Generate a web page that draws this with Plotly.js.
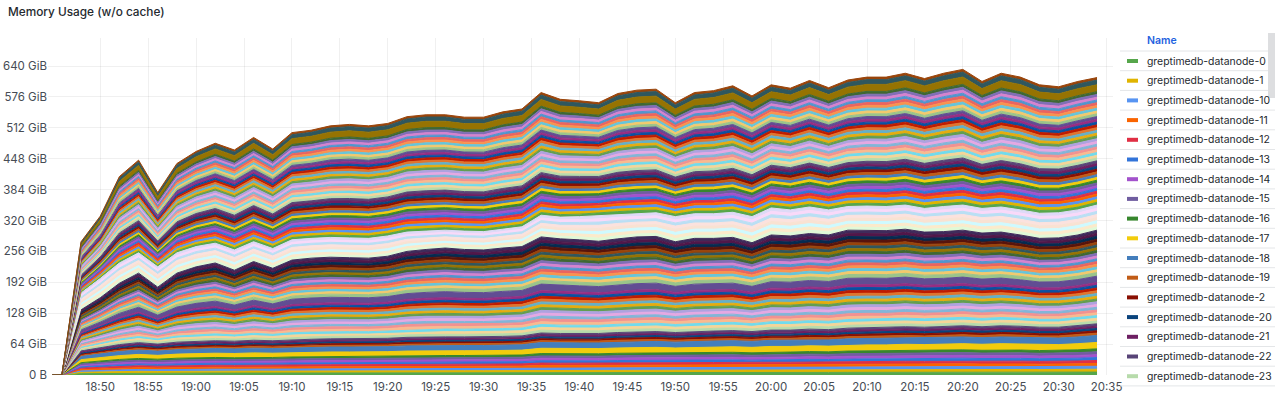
<!DOCTYPE html>
<html><head><meta charset="utf-8">
<script src="https://cdn.plot.ly/plotly-3.0.1.min.js"></script>
<style>html,body{margin:0;padding:0;background:#fff;} #chart{width:1280px;height:398px;}</style>
</head><body><div id="chart"></div>
<script>
// ---- data (GiB) ----
const day = '2024-01-01 ';
const times = ['18:45','18:46','18:48','18:50','18:52','18:54','18:56','18:58','19:00','19:02','19:04','19:06','19:08','19:10','19:12','19:14','19:16','19:18','19:20','19:22','19:24','19:26','19:28','19:30','19:32','19:34','19:36','19:38','19:40','19:42','19:44','19:46','19:48','19:50','19:52','19:54','19:56','19:58','20:00','20:02','20:04','20:06','20:08','20:10','20:12','20:14','20:16','20:18','20:20','20:22','20:24','20:26','20:28','20:30','20:32','20:34'];
// cumulative top of the stack (all 100 datanodes)
const stackTotal = [0,0,276,329,411,445,378,438,463,480,466,492,468,502,507,516,519,516,521,535,539,539,534,534,545,551,585,571,568,564,583,590,592,564,585,589,599,578,601,594,610,595,611,617,617,625,614,625,633,608,625,617,601,597,608,616];
// cumulative top of the pale band (series 48-55)
const topPale = [0,0,170,200,232,253,224,253,266,273,259,276,262,280,283,285,284,283,288,296,298,300,298,297,302,307,331,327,328,330,333,335,336,328,334,334,337,328,346,342,348,342,349,350,349,352,345,349,352,345,348,342,335,336,342,352];
// cumulative bottom of the pale band (top of series 47)
const bottomPale = [0,0,135,160,190,211,182,211,224,232,217,235,221,238,242,244,243,242,246,256,260,263,260,259,263,266,286,282,280,277,282,286,287,276,283,283,285,274,290,288,293,290,300,300,299,302,296,297,300,294,296,290,283,284,290,300];
// cumulative top of the lowest group (series 0-15)
const topLow = [0,0,50,57,63,67,64,68,70,71,70,72,71,73,74,75,75,75,76,78,79,79,79,79,80,81,87,86,86,86,88,89,90,88,90,91,92,90,93,93,95,94,97,98,98,100,99,100,102,100,102,101,99,99,102,106];
// relative band thickness of each series inside its group
const weightLow = [1,1,1,1,1,1,1,1,1,2.2,2.4,0.8,0.8,0.8,0.8,0.8];
const weightMid = [1,1,1,1,1,1,1,1,1,1,1,1,1,1,1,2.3,1.3,1,1,1,1,1,1,1,1,1,1,1,1.1,1.1,1.1,1.1];
const weightPale = [1,1,1,1,1,1,1,1];
const weightHigh = [1,1,1,1,1,1,1,1,1,1,1,1,1,1,1,1,1,1,1,1,1,1,1,1,1,1,1,1,1,1,1,1,1,1,1,1,1,1,1,1,1,2.5,1.7,0.9];
const nodeIds = Array.from({length:100},(_,i)=>String(i)).sort();
const palette = ['#56A64B','#E0B400','#5794F2','#FA6400','#E02F44','#3274D9','#A352CC','#705DA0','#37872D','#F2CC0C','#447EBC','#C15C17','#890F02','#0A437C','#6D1F62','#584477','#B7DBAB','#F4D598','#70DBED','#F9BA8F','#F29191','#82B5D8','#E5A8E2','#AEA2E0','#629E51','#E5AC0E','#64B0C8','#E0752D','#BF1B00','#0A50A1','#962D82','#614D93','#9AC48A','#F2C96D','#65C5DB','#F9934E','#EA6460','#5195CE','#D683CE','#806EB7','#3F6833','#967302','#2F575E','#99440A','#58140C','#052B51','#511749','#3F2B5B','#E0F9D7','#FCEACA','#CFFAFF','#F9E2D2','#FCE2DE','#BADFF4','#F9D9F9','#DEDAF7'];
const xTickLabels = ['18:50','18:55','19:00','19:05','19:10','19:15','19:20','19:25','19:30','19:35','19:40','19:45','19:50','19:55','20:00','20:05','20:10','20:15','20:20','20:25','20:30','20:35'];
const yTickVals = [0,64,128,192,256,320,384,448,512,576,640];
const yTickText = ['0 B','64 GiB','128 GiB','192 GiB','256 GiB','320 GiB','384 GiB','448 GiB','512 GiB','576 GiB','640 GiB'];

// ---- build series ----
const zero = times.map(()=>0);
const groups = [
  {lo: zero, hi: topLow, w: weightLow},
  {lo: topLow, hi: bottomPale, w: weightMid},
  {lo: bottomPale, hi: topPale, w: weightPale},
  {lo: topPale, hi: stackTotal, w: weightHigh}
];
const x = times.map(t => day + t);
const traces = [];
let idx = 0;
groups.forEach(g => {
  const sw = g.w.reduce((a,b)=>a+b,0);
  g.w.forEach(w => {
    const col = palette[idx % palette.length];
    traces.push({
      type:'scatter', mode:'lines', x: x,
      y: g.hi.map((h,j)=> (h - g.lo[j]) * w / sw),
      name: 'greptimedb-datanode-' + nodeIds[idx],
      stackgroup:'mem', fill:'tonexty', fillcolor: col,
      line:{color: col, width:1}, hoverinfo:'skip', showlegend:false
    });
    idx++;
  });
});

// ---- layout ----
const W=1280, H=398, ML=48, MR=167, MT=38, MB=23;
const PW = W-ML-MR, PH = H-MT-MB;
const px = v => (v-ML)/PW;
const py = v => (H-MB-v)/PH;
const font = 'Inter, "Noto Sans", sans-serif';
const shapes = [], annotations = [];
annotations.push({xref:'paper', yref:'paper', x:px(1145), y:py(41), text:'Name', showarrow:false,
  xanchor:'left', yanchor:'middle', font:{family:font, size:10.5, color:'#1F62E0', weight:600}});
shapes.push({type:'line', xref:'paper', yref:'paper', x0:px(1120), x1:px(1275), y0:py(51), y1:py(51), line:{color:'#E4E6E8', width:1}});
const ROW = 19.7;
for (let k=0;k<17;k++){
  const cy = 61 + ROW*k;
  shapes.push({type:'line', xref:'paper', yref:'paper', x0:px(1127), x1:px(1138), y0:py(cy), y1:py(cy), line:{color: traces[k].line.color, width:4}});
  annotations.push({xref:'paper', yref:'paper', x:px(1145), y:py(cy), text: traces[k].name, showarrow:false,
    xanchor:'left', yanchor:'middle', font:{family:font, size:10.4, color:'#24292E'}});
  const sy = 51 + ROW*(k+1);
  shapes.push({type:'line', xref:'paper', yref:'paper', x0:px(1120), x1:px(1275), y0:py(sy), y1:py(sy), line:{color:'#E4E6E8', width:1}});
}
// scrollbar thumb
shapes.push({type:'rect', xref:'paper', yref:'paper', x0:px(1268), x1:px(1275), y0:py(98), y1:py(33), fillcolor:'#DDDEE0', line:{width:0}});

const layout = {
  width:W, height:H, margin:{l:ML, r:MR, t:MT, b:MB, pad:0},
  paper_bgcolor:'#fff', plot_bgcolor:'#fff', showlegend:false, hovermode:false,
  title:{text:'Memory Usage (w/o cache)', xref:'container', yref:'container', x:8/W, xanchor:'left', y:1-12/H, yanchor:'middle',
    font:{family:font, size:11.8, color:'#24292E', weight:500}},
  xaxis:{type:'date', range:[day+'18:44:33', day+'20:35:40'], tickmode:'array',
    tickvals: xTickLabels.map(t=>day+t), ticktext: xTickLabels, ticklabelstandoff:3,
    showgrid:true, gridcolor:'rgba(36,41,46,0.07)', gridwidth:1, zeroline:false, showline:false, ticks:'',
    tickfont:{family:font, size:11.5, color:'#464C54'}, fixedrange:true},
  yaxis:{range:[0,698], tickmode:'array', tickvals:yTickVals, ticktext:yTickText, showgrid:true,
    gridcolor:'rgba(36,41,46,0.07)', gridwidth:1, zeroline:false, showline:false, ticks:'',
    tickfont:{family:font, size:11.5, color:'#464C54'}, fixedrange:true},
  shapes: shapes, annotations: annotations
};
Plotly.newPlot('chart', traces, layout, {displayModeBar:false, staticPlot:true});
</script></body></html>
